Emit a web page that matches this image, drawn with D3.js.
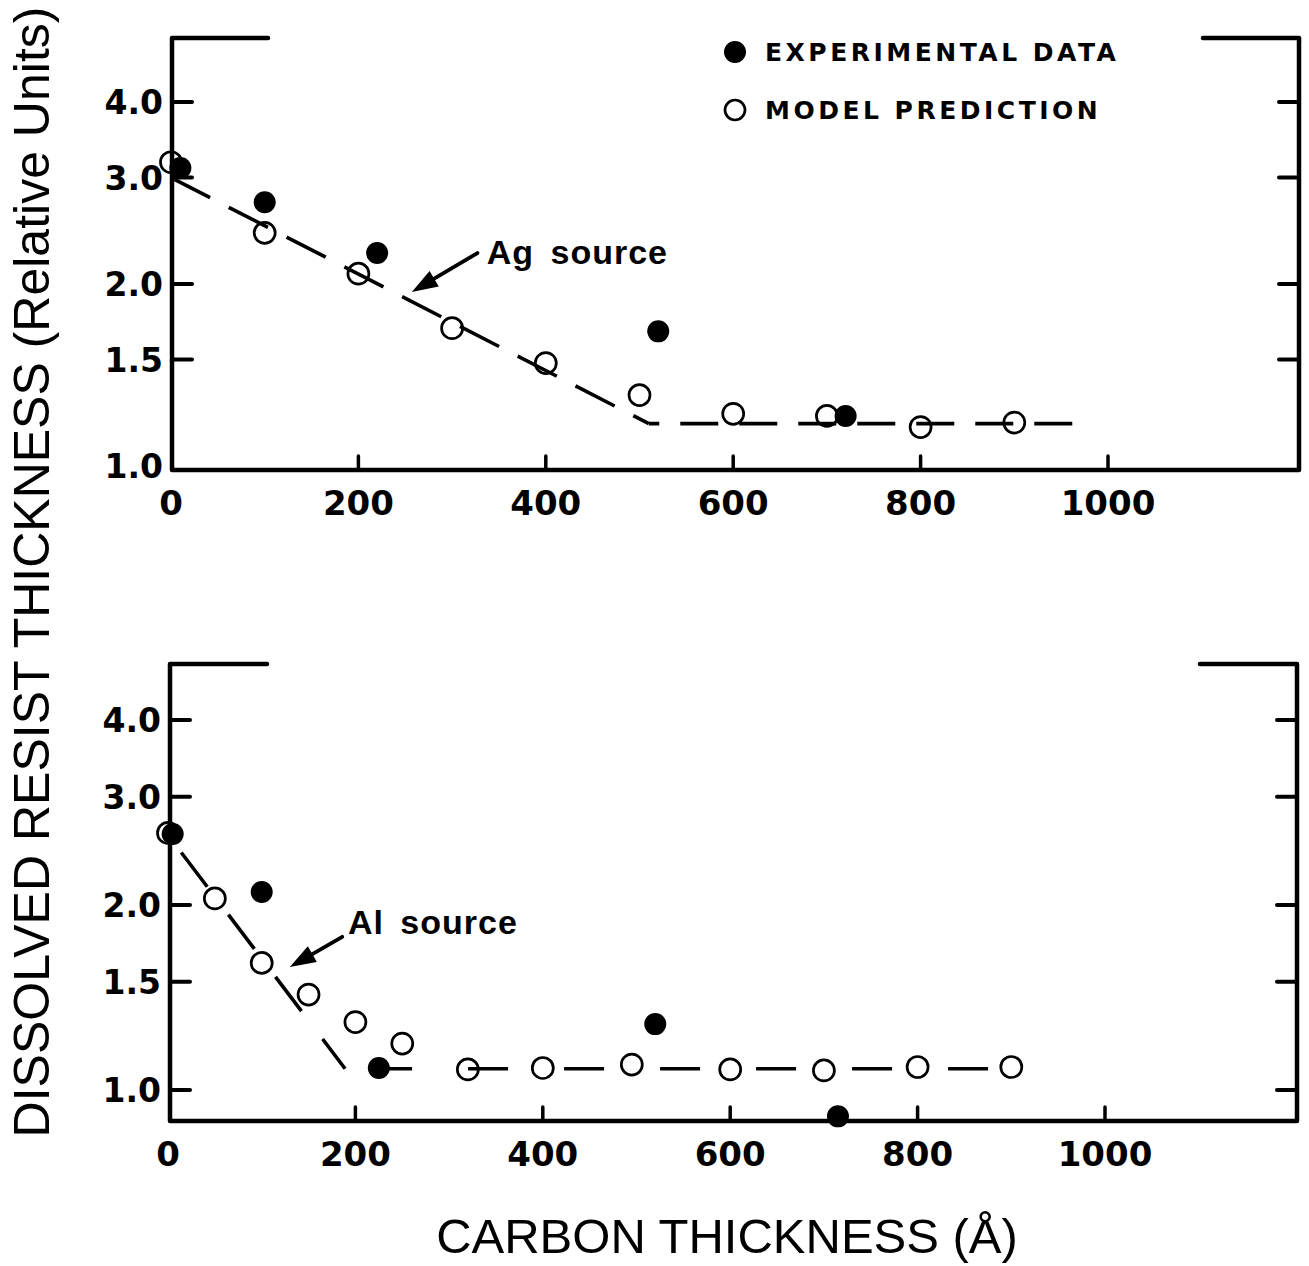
<!DOCTYPE html>
<html>
<head>
<meta charset="utf-8">
<script src="https://cdn.jsdelivr.net/npm/d3@7"></script>
<style>
  body { margin: 0; background: #fff; }
  svg { display: block; }
</style>
</head>
<body>
<svg id="chart" width="1309" height="1266"></svg>
<script>
// ---- data -------------------------------------------------------------
const xTickValues = [0, 200, 400, 600, 800, 1000];
const xTickLabels = ["0", "200", "400", "600", "800", "1000"];
const yTickValues = [1.0, 1.5, 2.0, 3.0, 4.0];
const yTickLabels = ["1.0", "1.5", "2.0", "3.0", "4.0"];

// Ag source
const agModelX = [0, 100, 200, 300, 400, 500, 600, 700, 800, 900];
const agModelY = [3.18, 2.43, 2.08, 1.69, 1.48, 1.31, 1.22, 1.21, 1.16, 1.18];
const agExpX = [10, 100, 220, 520, 720];
const agExpY = [3.11, 2.73, 2.25, 1.67, 1.21];
const agFitX = [0, 510, 962];
const agFitY = [3.0, 1.175, 1.175];

// Al source
const alModelX = [0, 50, 100, 150, 200, 250, 320, 400, 495, 600, 700, 800, 900];
const alModelY = [2.62, 2.05, 1.61, 1.43, 1.29, 1.19, 1.08, 1.086, 1.10, 1.08, 1.076, 1.09, 1.09];
const alExpX = [5, 100, 225, 520, 715];
const alExpY = [2.61, 2.10, 1.086, 1.28, 0.906];
const alFitX = [0, 189, 900];
const alFitY = [2.60, 1.083, 1.083];

const sourceLabels = ["Ag source", "Al source"];
const legendLabels = ["EXPERIMENTAL DATA", "MODEL PREDICTION"];
const xTitle = "CARBON THICKNESS (Å)";
const yTitle = "DISSOLVED RESIST THICKNESS (Relative Units)";

// ---- layout -----------------------------------------------------------
const INK = "#000";
const tickFont = "'DejaVu Sans', sans-serif";
const titleFont = "'Liberation Sans', Arial, sans-serif";

const panels = [
  {
    label: sourceLabels[0],
    modelX: agModelX, modelY: agModelY, expX: agExpX, expY: agExpY,
    fitX: agFitX, fitY: agFitY,
    xRange: [171, 1108], yRange: [466, 102],
    frame: { left: 172, right: 1299, top: 38, bottom: 470, capL: 268, capR: 1203 },
    legs: [{ dash: "44 21", offset: 0 }, { dash: "38 21", offset: 27.6 }],
    arrowTail: [327, 2.25], arrowTip: [257, 1.94], labelAt: [337, 2.16],
    legend: true
  },
  {
    label: sourceLabels[1],
    modelX: alModelX, modelY: alModelY, expX: alExpX, expY: alExpY,
    fitX: alFitX, fitY: alFitY,
    xRange: [168, 1105], yRange: [1090, 720],
    frame: { left: 170, right: 1297, top: 664, bottom: 1121, capL: 267, capR: 1200 },
    legs: [{ dash: "43 35", offset: 56 }, { dash: "40 56", offset: 69 }],
    arrowTail: [186, 1.775], arrowTip: [130, 1.585], labelAt: [192, 1.795],
    legend: false
  }
];

const svg = d3.select("#chart");
svg.append("rect").attr("width", 1309).attr("height", 1266).attr("fill", "#fff");

panels.forEach(p => {
  const x = d3.scaleLinear().domain([0, 1000]).range(p.xRange);
  const y = d3.scaleLog().domain([1, 4]).range(p.yRange);
  const f = p.frame;
  const g = svg.append("g");

  // frame: left axis, bottom axis, right axis and the two short top stubs
  const framePath = d3.path();
  framePath.moveTo(f.capL, f.top); framePath.lineTo(f.left, f.top);
  framePath.lineTo(f.left, f.bottom); framePath.lineTo(f.right, f.bottom);
  framePath.lineTo(f.right, f.top); framePath.lineTo(f.capR, f.top);
  g.append("path").attr("d", framePath.toString())
    .attr("fill", "none").attr("stroke", INK).attr("stroke-width", 4.5)
    .attr("stroke-linejoin", "round").attr("stroke-linecap", "round");

  // y ticks (inward on both sides) + labels
  const yIn = yTickValues.filter(v => y(v) < f.bottom - 6);
  g.selectAll(".ytl").data(yIn).join("line")
    .attr("x1", f.left).attr("x2", f.left + 20)
    .attr("y1", d => y(d)).attr("y2", d => y(d))
    .attr("stroke", INK).attr("stroke-width", 4).attr("stroke-linecap", "round");
  g.selectAll(".ytr").data(yIn).join("line")
    .attr("x1", f.right).attr("x2", f.right - 20)
    .attr("y1", d => y(d)).attr("y2", d => y(d))
    .attr("stroke", INK).attr("stroke-width", 4).attr("stroke-linecap", "round");
  g.selectAll(".ylab").data(yTickValues).join("text")
    .attr("x", f.left - 9).attr("y", d => y(d) + 12)
    .attr("text-anchor", "end")
    .attr("font-family", tickFont).attr("font-weight", "bold").attr("font-size", 33)
    .attr("fill", INK)
    .text((d, i) => yTickLabels[i]);

  // x ticks (pointing up from the bottom axis) + labels
  g.selectAll(".xt").data(xTickValues.filter(v => v > 0)).join("line")
    .attr("x1", d => x(d)).attr("x2", d => x(d))
    .attr("y1", f.bottom).attr("y2", f.bottom - 14)
    .attr("stroke", INK).attr("stroke-width", 3.5).attr("stroke-linecap", "round");
  g.selectAll(".xlab").data(xTickValues).join("text")
    .attr("x", d => x(d)).attr("y", f.bottom + 45)
    .attr("text-anchor", "middle")
    .attr("font-family", tickFont).attr("font-weight", "bold").attr("font-size", 34)
    .attr("fill", INK)
    .text((d, i) => xTickLabels[i]);

  // dashed model trend, one path per leg
  const line = d3.line().x(d => x(d[0])).y(d => y(d[1]));
  for (let i = 0; i < p.fitX.length - 1; i++) {
    g.append("path")
      .attr("d", line([[p.fitX[i], p.fitY[i]], [p.fitX[i + 1], p.fitY[i + 1]]]))
      .attr("fill", "none").attr("stroke", INK).attr("stroke-width", 3.6)
      .attr("stroke-dasharray", p.legs[i].dash)
      .attr("stroke-dashoffset", p.legs[i].offset);
  }

  // model prediction (open circles)
  g.selectAll(".model").data(d3.zip(p.modelX, p.modelY)).join("circle")
    .attr("cx", d => x(d[0])).attr("cy", d => y(d[1])).attr("r", 10.5)
    .attr("fill", "none").attr("stroke", INK).attr("stroke-width", 2.7);

  // experimental data (filled circles)
  g.selectAll(".exp").data(d3.zip(p.expX, p.expY)).join("circle")
    .attr("cx", d => x(d[0])).attr("cy", d => y(d[1])).attr("r", 11)
    .attr("fill", INK);

  // arrow annotation
  const tx = x(p.arrowTail[0]), ty = y(p.arrowTail[1]);
  const hx = x(p.arrowTip[0]), hy = y(p.arrowTip[1]);
  const ang = Math.atan2(hy - ty, hx - tx);
  const headLen = 26, headW = 9;
  const bx = hx - headLen * Math.cos(ang), by = hy - headLen * Math.sin(ang);
  g.append("line").attr("x1", tx).attr("y1", ty).attr("x2", bx).attr("y2", by)
    .attr("stroke", INK).attr("stroke-width", 3.8).attr("stroke-linecap", "round");
  g.append("path")
    .attr("d", `M${hx},${hy}L${bx + headW * Math.sin(ang)},${by - headW * Math.cos(ang)}L${bx - headW * Math.sin(ang)},${by + headW * Math.cos(ang)}Z`)
    .attr("fill", INK);
  g.append("text")
    .attr("x", x(p.labelAt[0])).attr("y", y(p.labelAt[1]))
    .attr("font-family", titleFont).attr("font-weight", "bold").attr("font-size", 34)
    .attr("letter-spacing", 1).attr("word-spacing", 6).attr("fill", INK)
    .text(p.label);

  // legend
  if (p.legend) {
    const lg = g.append("g");
    lg.append("circle").attr("cx", 735).attr("cy", 52).attr("r", 11).attr("fill", INK);
    lg.append("circle").attr("cx", 735).attr("cy", 110).attr("r", 10)
      .attr("fill", "none").attr("stroke", INK).attr("stroke-width", 2.7);
    lg.selectAll("text").data(legendLabels).join("text")
      .attr("x", 765).attr("y", (d, i) => 61 + i * 58)
      .attr("font-family", tickFont).attr("font-weight", "bold").attr("font-size", 25)
      .attr("letter-spacing", 3.5).attr("fill", INK)
      .text(d => d);
  }
});

// axis titles
svg.append("text")
  .attr("x", 727).attr("y", 1253)
  .attr("text-anchor", "middle")
  .attr("font-family", titleFont).attr("font-size", 49).attr("fill", INK)
  .text(xTitle);
svg.append("text")
  .attr("transform", "translate(49,572) rotate(-90)")
  .attr("text-anchor", "middle")
  .attr("font-family", titleFont).attr("font-size", 50).attr("fill", INK)
  .text(yTitle);
</script>
</body>
</html>
